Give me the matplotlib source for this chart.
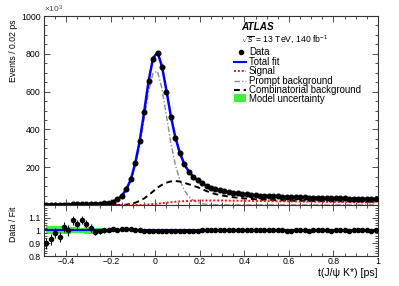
import numpy as np
import matplotlib
matplotlib.use("Agg")
import matplotlib.pyplot as plt
from matplotlib.ticker import MultipleLocator, FixedLocator
from matplotlib.lines import Line2D
from matplotlib.patches import Rectangle

plt.rcParams['font.family'] = ['Liberation Sans', 'DejaVu Sans']
plt.rcParams['mathtext.fontset'] = 'custom'
plt.rcParams['mathtext.rm'] = 'Liberation Sans'
plt.rcParams['mathtext.it'] = 'Liberation Sans:italic'

# bin centres [ps]
t = np.round(np.arange(-0.49, 1.0, 0.02), 2)

# data, events / 0.02 ps (x10^3)
data = [1.5, 1.6, 1.8, 1.9, 2.1, 2.4, 2.7, 3.0, 3.4, 3.8, 4.4, 5.2,
        6.4, 8.3, 11.5, 18, 30, 50, 85, 136, 222, 340, 493, 655, 774,
        804, 729, 600, 466, 355, 275, 216, 177, 150, 130, 114, 101, 91, 83,
        77, 72, 68, 64, 61, 58, 56, 54, 52, 50, 48.5, 47, 46, 45, 44, 43,
        42, 41, 40.5, 40, 39, 38.5, 38, 37, 36.5, 36, 35.5, 35, 34.5, 34,
        33.5, 33, 32.5, 32, 31.5, 31]

total_fit = [1.67, 1.72, 1.84, 2.0, 2.04, 2.4, 2.5, 2.86, 3.15, 3.62, 4.3, 5.25,
             6.4, 8.3, 11.5, 17.9, 29.9, 49.5, 84, 135, 222, 340, 494, 658, 778,
             807, 733, 604, 469, 357, 276, 217, 177, 150, 130, 114, 101, 91, 83,
             77, 72, 68, 64, 61, 58, 56, 54, 52, 50, 48.5, 47, 46, 45, 44, 43,
             42, 41, 40.5, 40, 39, 38.5, 38, 37, 36.5, 36, 35.5, 35, 34.5, 34,
             33.5, 33, 32.5, 32, 31.5, 31]

signal = [0]*20 + [0.3, 0.8, 1.5, 3, 5, 7, 9.5, 12, 14.5, 17, 19, 20.5, 21.7,
          22.6, 23.2, 23.6, 23.8, 23.9, 24.0, 23.8, 23.5, 23.2, 22.9, 22.6,
          22.3, 22.0, 21.7, 21.4, 21.1, 20.8, 20.5, 20.2, 19.9, 19.6, 19.3,
          19.0, 18.7, 18.4, 18.1, 17.8, 17.5, 17.2, 16.9, 16.6, 16.3, 16.0,
          15.7, 15.4, 15.1, 14.8, 14.5, 14.2, 13.9, 13.6, 13.3]

prompt = [1.5, 1.6, 1.8, 1.9, 2.1, 2.4, 2.7, 3.0, 3.4, 3.8, 4.4, 5.2,
          6.4, 8.2, 11, 17, 28, 48, 82, 129, 210, 318, 458, 603, 700,
          707, 614, 471, 327, 211, 132, 78, 45, 25, 13, 6.5, 3.5, 2, 1,
          0.6] + [0.3]*35

combinatorial = [0]*16 + [0.2, 0.6, 2, 6, 12, 22, 35, 52, 72, 92, 107, 118,
                 125, 127, 124, 117, 110, 102, 94, 84, 73.7, 65, 58, 52.6,
                 48.2, 44.8, 41.1, 38.4, 35.7, 34, 32.3, 30.6, 28.9, 27.7,
                 26.5, 25.8, 25.1, 24.4, 23.7, 23, 22.3, 22.1, 21.9, 21.2, 21,
                 20.8, 20.1, 19.9, 19.7, 19.5, 19.3, 19.1, 18.9, 18.7, 18.5,
                 18.3, 18.1, 17.9, 17.7]

ratio = [0.90, 0.93, 0.98, 0.95, 1.03, 1.00, 1.08, 1.05, 1.08, 1.05, 1.02, 0.99,
         0.995, 1.0, 1.0, 1.008, 1.005, 1.01, 1.012, 1.01, 1.0, 1.0, 0.998,
         0.996, 0.995, 0.996, 0.995, 0.994, 0.994, 0.995, 0.995, 0.995, 0.996,
         0.997, 0.996, 1.0, 1.003, 1.002, 1.004, 1.003, 1.0, 1.002, 1.004,
         1.006, 1.003, 1.005, 1.0, 1.004, 1.002, 1.003, 1.0, 1.004, 1.0,
         1.006, 0.998, 0.996, 1.001, 1.003, 1.0, 0.998, 1.002, 1.007, 1.0,
         1.002, 0.997, 1.003, 1.004, 1.0, 0.998, 1.002, 1.003, 1.0, 1.002,
         0.999, 1.005]

ratio_err = [0.045, 0.045, 0.04, 0.04, 0.04, 0.04, 0.035, 0.035, 0.03, 0.03,
             0.028, 0.025, 0.02, 0.018, 0.015, 0.012, 0.01, 0.008, 0.006,
             0.005] + [0.004]*55

# model uncertainty band (ratio), first bins only
band_t = t[:17]
band_hi = [1.035, 1.035, 1.035, 1.035, 1.03, 1.025, 1.025, 1.025, 1.02, 1.03,
           1.03, 1.02, 1.02, 1.02, 1.015, 1.015, 1.01]
band_lo = [0.975, 0.975, 0.975, 0.975, 0.975, 0.975, 0.978, 0.978, 0.98, 0.975,
           0.975, 0.975, 0.978, 0.98, 0.982, 0.985, 0.99]

legend_labels = ['Data', 'Total fit', 'Signal', 'Prompt background',
                 'Combinatorial background', 'Model uncertainty']

W, H = 399, 286
fig = plt.figure(figsize=(W/100, H/100), dpi=100)
L, R = 44/W, 378/W
ax = fig.add_axes([L, 1-205/H, R-L, 189/H])
axr = fig.add_axes([L, 1-256/H, R-L, 51/H], sharex=ax)

green = '#3cf03c'
blue = '#0000ee'
red = '#ff1010'
grey = '#8c8c8c'
ls_prompt = (0, (4, 1.5, 1, 1.5))
ls_comb = (0, (3, 2))
ls_sig = (0, (1, 1))

ax.plot(t, prompt, color=grey, lw=1.0, ls=ls_prompt, zorder=2)
ax.plot(t, combinatorial, color='black', lw=1.4, ls=ls_comb, zorder=3)
ax.plot(t, signal, color=red, lw=1.4, ls=ls_sig, zorder=3)
ax.plot(t, total_fit, color=blue, lw=1.8, zorder=4)
ax.plot(t, data, 'o', color='black', ms=3.3, zorder=5)

ax.set_xlim(-0.5, 1.0)
ax.set_ylim(0, 1000)

axr.fill_between(band_t, band_lo, band_hi, step='mid', color=green, lw=0, zorder=1)
axr.axhline(1.0, color=blue, lw=1.5, zorder=2)
axr.errorbar(t, ratio, yerr=ratio_err, fmt='o', color='black', ms=3.0,
             elinewidth=0.7, capsize=0, zorder=3)
axr.set_ylim(0.8, 1.2)

for a in (ax, axr):
    for s in a.spines.values():
        s.set_linewidth(0.8)
        s.set_color('#333333')
    a.tick_params(which='both', direction='in', top=True, right=True,
                  labelsize=6.3, color='#333333', width=0.6)
    a.tick_params(which='major', length=4)
    a.tick_params(which='minor', length=2)
    a.xaxis.set_major_locator(MultipleLocator(0.2))
    a.xaxis.set_minor_locator(MultipleLocator(0.05))

ax.yaxis.set_major_locator(FixedLocator([0, 200, 400, 600, 800, 1000]))
ax.yaxis.set_minor_locator(MultipleLocator(50))
ax.set_yticklabels(['', '200', '400', '600', '800', '1000'])
ax.tick_params(labelbottom=False)
ax.tick_params(axis='y', pad=2.5)

axr.yaxis.set_major_locator(FixedLocator([0.8, 0.9, 1.0, 1.1]))
axr.yaxis.set_minor_locator(MultipleLocator(0.02))
axr.set_yticklabels(['0.8', '0.9', '1', '1.1'])
axr.set_xticks([-0.4, -0.2, 0, 0.2, 0.4, 0.6, 0.8, 1.0])
axr.set_xticklabels(['\u22120.4', '\u22120.2', '0', '0.2', '0.4', '0.6', '0.8', '1'])
axr.tick_params(axis='x', pad=1.0)
axr.tick_params(axis='y', pad=2.5)

fig.text(14/W, 1-20/H, 'Events / 0.02 ps', rotation=90, ha='center', va='top', fontsize=6.3)
fig.text(44/W, 1-9/H, r'$\times10^{3}$', ha='left', va='center', fontsize=6.0, color='#444444')
fig.text(14/W, 1-207/H, 'Data / Fit', rotation=90, ha='center', va='top', fontsize=6.3)
fig.text(R, 1-273/H, 't(J/\u03c8 K*) [ps]', ha='right', va='center', fontsize=7.6)

fig.text(241/W, 1-27/H, 'ATLAS', fontsize=7.2, fontweight='bold', fontstyle='italic', ha='left', va='center')
fig.text(241/W, 1-40/H, r'$\sqrt{s}$ = 13 TeV, 140 fb$^{-1}$', fontsize=6.2, ha='left', va='center')

# legend, drawn entry by entry
rows = [52.3, 61.7, 71.1, 80.5, 89.9, 99.0]
hx0, hx1, tx = 234/W, 246/W, 249/W
for yy, lab in zip(rows, legend_labels):
    fig.text(tx, 1-yy/H, lab, fontsize=6.9, ha='left', va='center')
fy = [1-y/H for y in rows]
fig.add_artist(Line2D([241/W], [fy[0]], marker='o', color='black', ms=3.0, ls='none', transform=fig.transFigure))
fig.add_artist(Line2D([hx0, hx1], [fy[1]]*2, color=blue, lw=1.5, transform=fig.transFigure))
fig.add_artist(Line2D([hx0, hx1], [fy[2]]*2, color=red, lw=1.4, ls=ls_sig, transform=fig.transFigure))
fig.add_artist(Line2D([hx0, hx1], [fy[3]]*2, color=grey, lw=1.0, ls=ls_prompt, transform=fig.transFigure))
fig.add_artist(Line2D([hx0, hx1], [fy[4]]*2, color='black', lw=1.4, ls=ls_comb, transform=fig.transFigure))
fig.add_artist(Rectangle((hx0, 1-102/H), hx1-hx0, 8.5/H, facecolor=green, edgecolor='none', transform=fig.transFigure))

fig.savefig('out.png', dpi=100)
